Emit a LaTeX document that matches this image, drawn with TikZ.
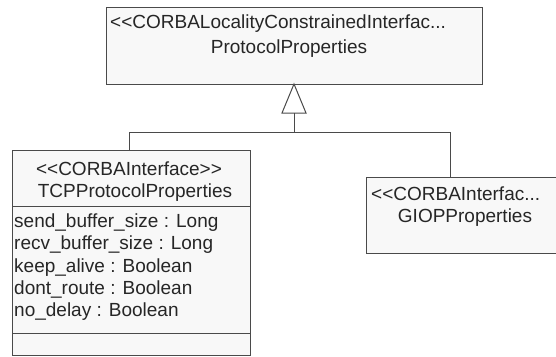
\documentclass[tikz,border=0pt]{standalone}
\usepackage{fontspec}
\setmainfont{Liberation Sans}
\definecolor{umlline}{HTML}{4A4A4A}
\definecolor{umlfill}{HTML}{F8F8F8}
\begin{document}
\begin{tikzpicture}[x=1pt,y=-1pt,
  box/.style={draw=umlline, fill=umlfill, line width=1pt, inner sep=0pt, outer sep=0pt, anchor=north west},
  txt/.style={font=\fontsize{19}{22}\selectfont, inner sep=0pt, text=black!85},
  link/.style={draw=umlline, line width=1pt}]
\useasboundingbox (0,0) rectangle (556,356);
\fill[white] (0,0) rectangle (556,356);
% boxes
\node[box, minimum width=376pt, minimum height=77pt] (top) at (106,7) {};
\node[box, minimum width=238pt, minimum height=205pt] (tcp) at (12,150) {};
\node[box, minimum width=200pt, minimum height=76pt] (giop) at (366,177) {};
% compartments
\draw[link] (tcp.west |- 0,206) -- (tcp.east |- 0,206);
\draw[link] (tcp.west |- 0,333) -- (tcp.east |- 0,333);
% texts
\node[txt, anchor=base west] (t1) at (110,28.5) {{<}{<}CORBALocalityConstrainedInterfac...};
\node[txt, anchor=base] (t2) at (289,53.5) {ProtocolProperties};
\node[txt, anchor=base] (l1) at (129,175) {{<}{<}CORBAInterface{>}{>}};
\node[txt, anchor=base] (l2) at (135,197.5) {TCPProtocolProperties};
\node[txt, anchor=base west] (a1) at (14,227.5) {send\_buffer\_size : Long};
\node[txt, anchor=base west] (a2) at (14,249.5) {recv\_buffer\_size : Long};
\node[txt, anchor=base west] (a3) at (14,272) {keep\_alive : Boolean};
\node[txt, anchor=base west] (a4) at (14,294) {dont\_route : Boolean};
\node[txt, anchor=base west] (a5) at (14,316.5) {no\_delay : Boolean};
\node[txt, anchor=base west] (r1) at (371,200) {{<}{<}CORBAInterfac...};
\node[txt, anchor=base] (r2) at (465,222.5) {GIOPProperties};
% generalization
\coordinate (tribase) at (294,113);
\coordinate (jl) at (129,132);
\coordinate (jr) at (450,132);
\draw[link, fill=white] (top.south) -- ++(-12,29) -- ++(24,0) -- cycle;
\draw[link] (tribase) -- (tribase |- jl);
\draw[link] (jl) -- (jr);
\draw[link] (jl) -- (jl |- tcp.north);
\draw[link] (jr) -- (jr |- giop.north);
\end{tikzpicture}
\end{document}
